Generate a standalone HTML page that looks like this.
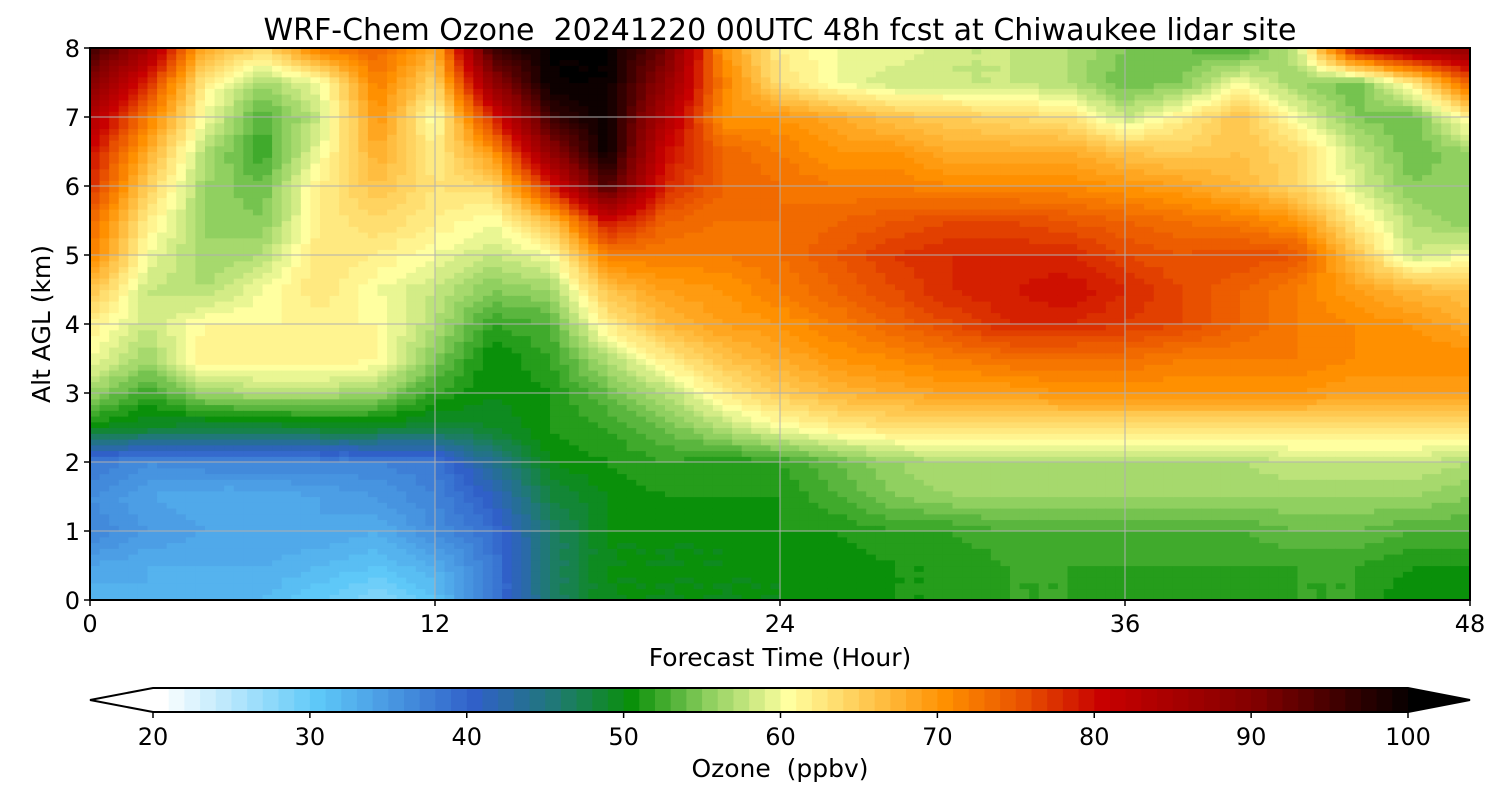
<!DOCTYPE html>
<html><head><meta charset="utf-8"><style>
html,body{margin:0;padding:0;background:#fff;}
svg text{font-family:"DejaVu Sans","Liberation Sans",sans-serif;fill:#000;white-space:pre;}
</style></head><body>
<svg id="chart" width="1500" height="800" xmlns="http://www.w3.org/2000/svg">
<text x="780" y="40" font-size="30" text-anchor="middle" xml:space="preserve">WRF-Chem Ozone  20241220 00UTC 48h fcst at Chiwaukee lidar site</text>
<g id="field"></g>
<g id="grid"></g>
<rect x="90" y="48" width="1380" height="552" fill="none" stroke="#000" stroke-width="2"/>
<g id="axes"></g>
<text x="780" y="666" font-size="25" text-anchor="middle">Forecast Time (Hour)</text>
<text transform="translate(50,324) rotate(-90)" font-size="25" text-anchor="middle">Alt AGL (km)</text>
<g id="cbar"></g>
<text x="780" y="777" font-size="25" text-anchor="middle" xml:space="preserve">Ozone  (ppbv)</text>
</svg>
<script>
const hours=[0,2,4,6,8,10,12,14,16,18,20,22,24,26,28,30,32,34,36,38,40,42,44,46,48];
const altitudes=[0,0.5,1,1.5,2,2.5,3,3.5,4,4.5,5,5.5,6,6.5,7,7.5,8];
const ozone=[
[32,33,32,32,30,28,31,38,46,50,50,50,50,51,51,51,52,52,51,51,51,52,52,50,50],
[34,33,33,33,32,31,33,38,46,50,50,50,50,50,51,51,52,52,52,52,52,52,52,51,51],
[37,35,34,34,34,33,36,39,46,50,50,50,51,51,52,52,53,53,53,53,53,54,54,53,53],
[36,34,33,33,34,35,37,41,48,50,51,51,51,53,55,56,56,56,56,56,56,56,56,56,55],
[38,36,37,37,37,37,38,44,50,51,52,51,52,54,56,57,57,57,57,57,57,58,58,58,57],
[50,49,48,48,49,49,48,49,51,52,54,57,60,62,63,63,63,63,63,63,63,63,63,63,63],
[56,52,56,57,57,56,52,50,51,54,57,62,65,67,68,69,69,70,70,70,70,70,69,69,69],
[60,56,62,62,62,61,55,50,52,57,62,66,68,70,71,72,73,73,73,72,72,72,71,71,71],
[62,58,61,61,61,61,57,52,53,62,67,69,70,72,74,76,78,78,77,76,74,72,71,70,68],
[66,58,57,60,63,60,58,55,56,66,69,70,72,74,76,78,79,80,78,76,74,72,69,67,66],
[72,60,56,57,63,62,60,58,60,72,72,72,73,75,77,78,78,78,76,75,76,75,66,58,60],
[74,62,56,55,62,64,62,60,66,80,74,73,73,74,75,76,76,75,74,73,72,70,62,57,55],
[78,65,56,54,62,66,63,64,78,95,78,74,73,72,72,71,71,71,70,69,67,64,59,55,56],
[80,68,57,52,60,68,62,70,88,100,80,74,72,70,70,68,68,68,66,65,66,64,58,54,56],
[84,72,60,53,58,70,60,78,96,100,84,70,70,68,66,65,64,63,58,62,66,60,55,54,62],
[90,78,62,56,60,72,64,88,100,100,88,72,63,60,58,58,58,57,54,55,60,56,54,62,74],
[96,86,68,64,72,74,68,96,100,100,92,70,62,60,60,58,58,57,55,54,53,58,80,86,88]
];
const xTicks=[0,12,24,36,48];
const yTicks=[0,1,2,3,4,5,6,7,8];
const cbTicks=[20,30,40,50,60,70,80,90,100];
const cmapVals=[20,30,40,45,50,55,60,65,70,75,80,90,100];
const cmapCols=["#ffffff","#5ec8f8","#3060c8","#207878","#0a900a","#90d060","#ffffa0","#ffc850","#ff9000","#e85000","#c80000","#800000","#000000"];
const X0=90,X1=1470,Y0=600,Y1=48;
const xs=h=>X0+(h/48)*(X1-X0);
const ys=a=>Y0-(a/8)*(Y0-Y1);
function hex(c){return [parseInt(c.substr(1,2),16),parseInt(c.substr(3,2),16),parseInt(c.substr(5,2),16)];}
function color(v){
  v=Math.floor(v); if(v<20)v=20; if(v>=100)return "#000";
  for(let i=0;i<cmapVals.length-1;i++){
    if(v>=cmapVals[i]&&v<=cmapVals[i+1]){
      const t=(v-cmapVals[i])/(cmapVals[i+1]-cmapVals[i]);
      const a=hex(cmapCols[i]),b=hex(cmapCols[i+1]);
      return "rgb("+a.map((q,k)=>Math.round(q+(b[k]-q)*t)).join(",")+")";
    }
  }
  return "#000";
}
const NS="http://www.w3.org/2000/svg";
const field=document.getElementById('field');
const SUB=6;
for(let r=0;r<altitudes.length-1;r++){
  for(let c=0;c<hours.length-1;c++){
    const v00=ozone[r][c],v01=ozone[r][c+1],v10=ozone[r+1][c],v11=ozone[r+1][c+1];
    for(let i=0;i<SUB;i++){for(let j=0;j<SUB;j++){
      const tx=(i+0.5)/SUB,ty=(j+0.5)/SUB;
      const v=v00*(1-tx)*(1-ty)+v01*tx*(1-ty)+v10*(1-tx)*ty+v11*tx*ty;
      const h0=hours[c]+(hours[c+1]-hours[c])*i/SUB,h1=hours[c]+(hours[c+1]-hours[c])*(i+1)/SUB;
      const a0=altitudes[r]+(altitudes[r+1]-altitudes[r])*j/SUB,a1=altitudes[r]+(altitudes[r+1]-altitudes[r])*(j+1)/SUB;
      const el=document.createElementNS(NS,'rect');
      
      
      el.setAttribute('x',xs(h0));el.setAttribute('y',ys(a1));
      el.setAttribute('width',xs(h1)-xs(h0)+0.6);el.setAttribute('height',ys(a0)-ys(a1)+0.6);
      el.setAttribute('fill',color(v));
      field.appendChild(el);
    }}
  }
}
const grid=document.getElementById('grid'),axes=document.getElementById('axes');
function line(p,x1,y1,x2,y2,st,w,name){const l=document.createElementNS(NS,'line');
  
  
  l.setAttribute('x1',x1);l.setAttribute('y1',y1);l.setAttribute('x2',x2);l.setAttribute('y2',y2);l.setAttribute('stroke',st);l.setAttribute('stroke-width',w);p.appendChild(l);}
function text(p,x,y,s,anchor,size,name){const t=document.createElementNS(NS,'text');
  
  
  t.setAttribute('x',x);t.setAttribute('y',y);t.setAttribute('text-anchor',anchor);t.setAttribute('font-size',size);t.textContent=s;p.appendChild(t);}
xTicks.forEach(h=>{line(grid,xs(h),Y1,xs(h),Y0,"#b0b0b0",1,'x-grid-line');line(axes,xs(h),Y0,xs(h),Y0+6,"#000",1.5,'x-tick');text(axes,xs(h),632,String(h),'middle',24,'x-tick-label');});
yTicks.forEach(a=>{line(grid,X0,ys(a),X1,ys(a),"#b0b0b0",1,'y-grid-line');line(axes,X0-6,ys(a),X0,ys(a),"#000",1.5,'y-tick');text(axes,X0-10,ys(a)+9,String(a),'end',24,'y-tick-label');});
const cb=document.getElementById('cbar');
const CB0=153,CB1=1408,CBT=688,CBB=712;
const cx=v=>CB0+(v-20)/80*(CB1-CB0);
for(let v=20;v<100;v++){const r=document.createElementNS(NS,'rect');
  
  
  r.setAttribute('x',cx(v));r.setAttribute('y',CBT);r.setAttribute('width',cx(v+1)-cx(v)+0.5);r.setAttribute('height',CBB-CBT);r.setAttribute('fill',color(v));cb.appendChild(r);}
const lt=document.createElementNS(NS,'polygon');


lt.setAttribute('points',`${CB0},${CBT} 90,700 ${CB0},${CBB}`);lt.setAttribute('fill','#fff');cb.appendChild(lt);
const rt=document.createElementNS(NS,'polygon');


rt.setAttribute('points',`${CB1},${CBT} 1470,700 ${CB1},${CBB}`);rt.setAttribute('fill','#000');cb.appendChild(rt);
const ol=document.createElementNS(NS,'polygon');


ol.setAttribute('points',`90,700 ${CB0},${CBT} ${CB1},${CBT} 1470,700 ${CB1},${CBB} ${CB0},${CBB}`);ol.setAttribute('fill','none');ol.setAttribute('stroke','#000');ol.setAttribute('stroke-width','2');cb.appendChild(ol);
cbTicks.forEach(v=>{line(cb,cx(v),CBB,cx(v),CBB+6,"#000",1.5,'colorbar-tick');text(cb,cx(v),745,String(v),'middle',24,'colorbar-tick-label');});
</script>
</body></html>
